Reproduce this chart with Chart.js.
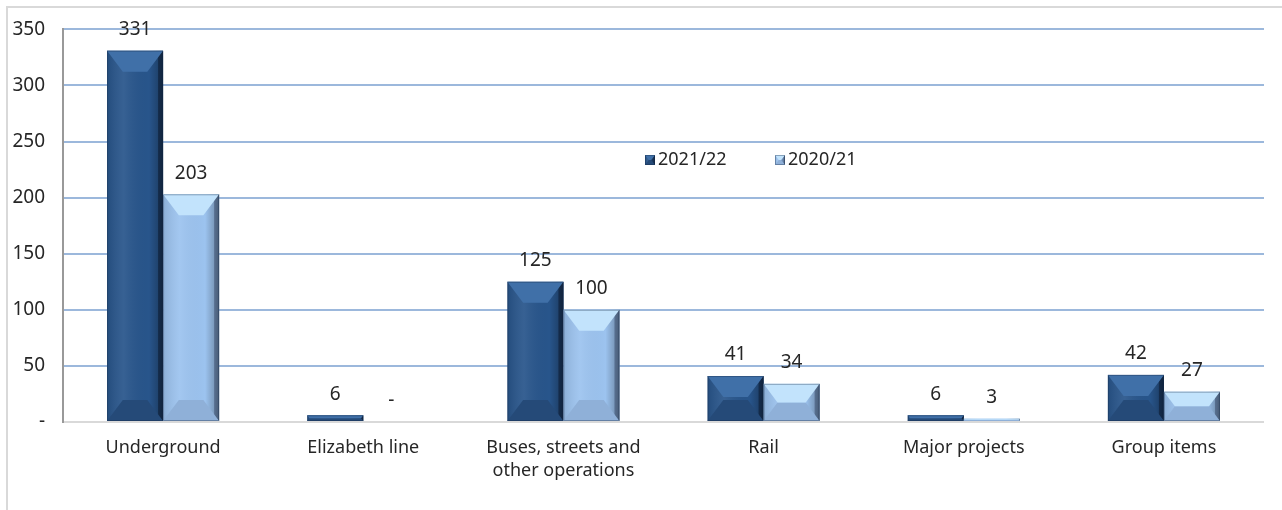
<!DOCTYPE html>
<html>
<head>
<meta charset="utf-8">
<script src="https://cdn.jsdelivr.net/npm/chart.js@4/dist/chart.umd.min.js"></script>
<style>
html,body{margin:0;padding:0;background:#fff;}
#wrap{position:relative;width:1282px;height:510px;}
</style>
</head>
<body>
<div id="wrap"><canvas id="c" width="1282" height="510"></canvas></div>
<script>
const categories = ['Underground', 'Elizabeth line', ['Buses, streets and', 'other operations'], 'Rail', 'Major projects', 'Group items'];
const series2122 = [331, 6, 125, 41, 6, 42];
const series2021 = [203, 0, 100, 34, 3, 27];
const seriesLabels = ['2021/22', '2020/21'];
const yTicks = [0, 50, 100, 150, 200, 250, 300, 350];
const yTickLabels = ['-', '50', '100', '150', '200', '250', '300', '350'];

const FONT = '"Noto Sans", "Open Sans", sans-serif';
const palettes = [
  {body:'#28558b', top:'#4070a8', bottom:'#254a78', right:'#1a375e'},
  {body:'#9cc3ef', top:'#c2e3fc', bottom:'#8fb0d8', right:'#6f8db6'}
];

function drawBevelBox(ctx, x0, y0, x1, y1, p) {
  const w = x1 - x0, h = y1 - y0;
  if (h <= 0 || w <= 0) return;
  const b = Math.min(21, w / 2, h / 2);
  const bi = Math.min(b * 0.75, w / 2);
  const r = Math.min(5, h / 2);
  ctx.save();
  ctx.fillStyle = p.body; ctx.fillRect(x0, y0, w, h);
  // right facet
  ctx.fillStyle = p.right;
  ctx.beginPath(); ctx.moveTo(x1, y0); ctx.lineTo(x1 - r, y0 + r); ctx.lineTo(x1 - r, y1 - r); ctx.lineTo(x1, y1); ctx.closePath(); ctx.fill();
  // face gradient
  const g = ctx.createLinearGradient(x0, 0, x1, 0);
  g.addColorStop(0, 'rgba(0,0,0,0.10)');
  g.addColorStop(0.3, 'rgba(255,255,255,0.07)');
  g.addColorStop(0.75, 'rgba(0,0,0,0.0)');
  g.addColorStop(0.92, 'rgba(0,0,0,0.22)');
  g.addColorStop(1, 'rgba(0,0,0,0.35)');
  ctx.fillStyle = g; ctx.fillRect(x0, y0, w, h);
  // bottom facet
  ctx.fillStyle = p.bottom;
  ctx.beginPath(); ctx.moveTo(x0, y1); ctx.lineTo(x0 + bi, y1 - b); ctx.lineTo(x1 - bi, y1 - b); ctx.lineTo(x1, y1); ctx.closePath(); ctx.fill();
  // top facet
  ctx.fillStyle = p.top;
  ctx.beginPath(); ctx.moveTo(x0, y0); ctx.lineTo(x0 + bi, y0 + b); ctx.lineTo(x1 - bi, y0 + b); ctx.lineTo(x1, y0); ctx.closePath(); ctx.fill();
  if (h > 3) {
    ctx.strokeStyle = 'rgba(20,40,70,0.35)'; ctx.lineWidth = 1;
    ctx.strokeRect(x0 + 0.5, y0 + 0.5, w - 1, h - 1);
  }
  ctx.restore();
}

const bevelPlugin = {
  id: 'bevel',
  beforeDraw(chart) {
    const ctx = chart.ctx;
    ctx.save();
    ctx.fillStyle = '#fff'; ctx.fillRect(0, 0, chart.width, chart.height);
    ctx.strokeStyle = '#d9d9d9'; ctx.lineWidth = 2;
    ctx.strokeRect(7, 7, chart.width + 20, chart.height + 20);
    ctx.restore();
  },
  afterDatasetsDraw(chart) {
    const ctx = chart.ctx;
    chart.data.datasets.forEach((ds, di) => {
      const meta = chart.getDatasetMeta(di);
      meta.data.forEach((bar, i) => {
        const x0 = bar.x - bar.width / 2, x1 = bar.x + bar.width / 2;
        const y0 = Math.min(bar.y, bar.base), y1 = Math.max(bar.y, bar.base);
        drawBevelBox(ctx, x0, y0, x1, y1, palettes[di]);
        const v = ds.data[i];
        ctx.save();
        ctx.fillStyle = '#262626';
        ctx.font = '19px ' + FONT;
        ctx.textAlign = 'center'; ctx.textBaseline = 'middle';
        ctx.fillText(v === 0 ? '-' : String(v), bar.x, bar.y - 21);
        ctx.restore();
      });
    });
    // legend
    const lx = [645, 775], ly = 160;
    ctx.save();
    ctx.font = '18px ' + FONT;
    ctx.textBaseline = 'middle'; ctx.textAlign = 'left';
    chart.data.datasets.forEach((ds, di) => {
      drawBevelBox(ctx, lx[di], ly - 5, lx[di] + 10, ly + 5, palettes[di]);
      ctx.fillStyle = '#262626';
      ctx.fillText(ds.label, lx[di] + 13, ly);
    });
    ctx.restore();
  }
};

new Chart(document.getElementById('c'), {
  type: 'bar',
  data: {
    labels: categories,
    datasets: [
      {label: seriesLabels[0], data: series2122, backgroundColor: 'rgba(0,0,0,0)', borderWidth: 0},
      {label: seriesLabels[1], data: series2021, backgroundColor: 'rgba(0,0,0,0)', borderWidth: 0}
    ]
  },
  options: {
    responsive: false,
    animation: false,
    events: [],
    layout: {padding: {top: 29, right: 18, left: 0, bottom: 0}},
    datasets: {bar: {categoryPercentage: 0.56, barPercentage: 1.0}},
    plugins: {legend: {display: false}, tooltip: {enabled: false}},
    scales: {
      x: {
        grid: {display: false, drawTicks: false},
        border: {display: false},
        ticks: {color: '#262626', font: {family: FONT, size: 18, lineHeight: 1.3}, padding: 14, maxRotation: 0, autoSkip: false},
        afterFit(s) { s.height = 88; }
      },
      y: {
        min: 0, max: 350,
        afterBuildTicks(s) { s.ticks = yTicks.map(v => ({value: v})); },
        grid: {
          color: c => c.index === 0 ? '#d9d9d9' : '#9cb8dc',
          lineWidth: 2, drawTicks: false
        },
        border: {display: true, color: '#999', width: 2},
        ticks: {
          color: '#262626', font: {family: FONT, size: 19}, padding: 18,
          callback: (v, i) => yTickLabels[yTicks.indexOf(v)]
        },
        afterFit(s) { s.width = 63; }
      }
    }
  },
  plugins: [bevelPlugin]
});
</script>
</body>
</html>
